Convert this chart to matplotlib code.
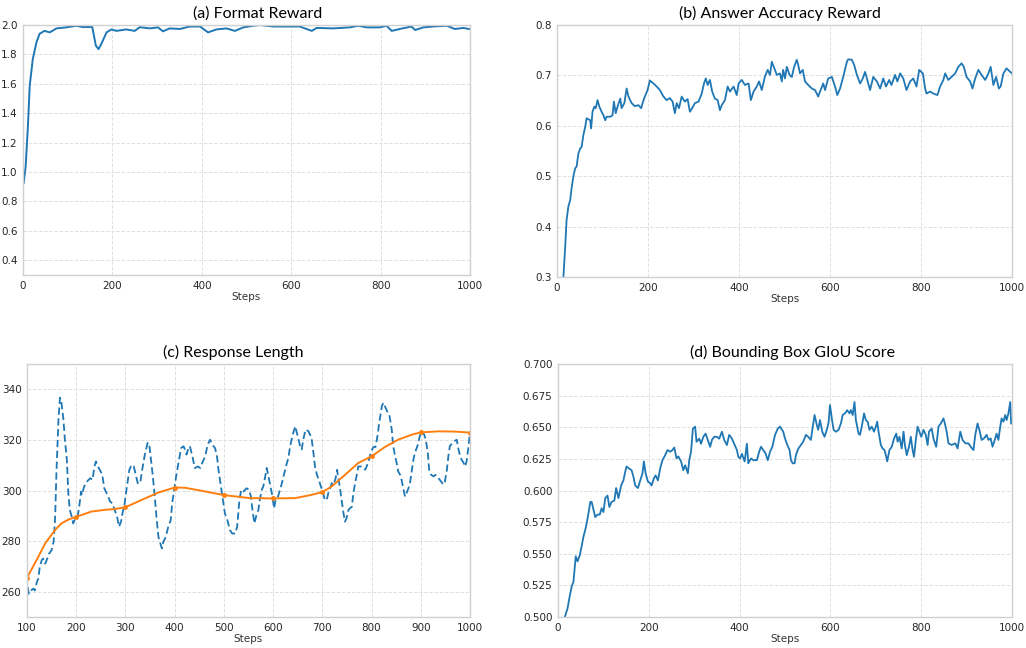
import matplotlib
import matplotlib.pyplot as plt

matplotlib.use("Agg")

# ---- data ----
fmt_steps = [1.5, 6, 11, 15, 22, 30, 37, 48, 60, 75, 97, 119, 134, 155, 163, 169, 175, 187,
             198, 209, 231, 250, 261, 284, 302, 313, 328, 351, 373, 396, 414, 433, 455, 474,
             493, 515, 530, 560, 590, 619, 646, 657, 694, 731, 750, 769, 799, 813, 825, 843,
             869, 877, 896, 918, 948, 966, 985, 998]
fmt_vals = [0.925, 1.04, 1.31, 1.585, 1.77, 1.88, 1.94, 1.96, 1.95, 1.977, 1.984, 1.995, 1.986,
            1.986, 1.86, 1.836, 1.87, 1.95, 1.97, 1.96, 1.97, 1.96, 1.985, 1.977, 1.984, 1.957,
            1.977, 1.973, 1.99, 1.99, 1.95, 1.97, 1.977, 1.96, 1.984, 1.995, 2.0, 1.99, 1.99,
            1.99, 1.96, 1.98, 1.977, 1.984, 1.995, 1.984, 1.984, 1.995, 1.96, 1.973, 1.99,
            1.966, 1.984, 1.99, 1.995, 1.973, 1.98, 1.973]

acc_steps = [14, 18, 21, 25, 29, 32, 36, 40, 43, 47, 51, 54, 58, 62, 65, 69, 73, 75, 78, 82,
             85, 89, 93, 98, 102, 106, 109, 117, 122, 125, 129, 133, 139, 142, 148, 153, 157,
             164, 171, 179, 185, 188, 193, 199, 204, 212, 219, 226, 234, 241, 248, 254, 259,
             263, 268, 274, 281, 287, 292, 297, 303, 311, 318, 323, 327, 331, 336, 341, 347,
             353, 358, 362, 369, 375, 380, 388, 395, 399, 406, 413, 421, 426, 432, 439, 444,
             450, 457, 463, 468, 472, 479, 483, 490, 494, 497, 501, 505, 511, 516, 521, 527,
             530, 534, 540, 545, 552, 560, 567, 574, 578, 585, 589, 596, 604, 611, 616, 622,
             629, 637, 640, 648, 653, 659, 666, 672, 677, 682, 688, 695, 703, 710, 717, 723,
             730, 735, 743, 748, 754, 761, 768, 776, 783, 790, 796, 804, 809, 812, 820, 827,
             836, 842, 849, 853, 860, 867, 875, 882, 889, 894, 900, 908, 913, 919, 926, 933,
             941, 948, 953, 959, 965, 971, 975, 981, 988, 996, 1000]
acc_vals = [0.300, 0.360, 0.413, 0.440, 0.453, 0.476, 0.500, 0.516, 0.519, 0.545, 0.555, 0.558,
            0.582, 0.598, 0.615, 0.613, 0.611, 0.595, 0.628, 0.638, 0.635, 0.651, 0.638, 0.628,
            0.621, 0.611, 0.618, 0.618, 0.621, 0.648, 0.625, 0.638, 0.654, 0.635, 0.645, 0.674,
            0.658, 0.645, 0.639, 0.641, 0.635, 0.645, 0.658, 0.671, 0.690, 0.684, 0.678, 0.671,
            0.658, 0.651, 0.655, 0.648, 0.625, 0.645, 0.635, 0.658, 0.648, 0.653, 0.628, 0.635,
            0.645, 0.648, 0.664, 0.684, 0.694, 0.681, 0.691, 0.668, 0.654, 0.651, 0.631, 0.641,
            0.651, 0.678, 0.668, 0.678, 0.661, 0.684, 0.691, 0.681, 0.684, 0.651, 0.668, 0.678,
            0.688, 0.671, 0.698, 0.711, 0.701, 0.727, 0.711, 0.701, 0.704, 0.688, 0.711, 0.694,
            0.717, 0.701, 0.697, 0.717, 0.731, 0.721, 0.704, 0.711, 0.688, 0.681, 0.674, 0.671,
            0.658, 0.668, 0.684, 0.671, 0.694, 0.697, 0.678, 0.661, 0.674, 0.697, 0.727, 0.732,
            0.731, 0.721, 0.701, 0.684, 0.694, 0.707, 0.691, 0.671, 0.697, 0.688, 0.674, 0.694,
            0.678, 0.691, 0.681, 0.701, 0.688, 0.704, 0.694, 0.671, 0.688, 0.694, 0.678, 0.711,
            0.704, 0.674, 0.664, 0.668, 0.664, 0.661, 0.678, 0.691, 0.704, 0.691, 0.697, 0.704,
            0.717, 0.724, 0.717, 0.697, 0.688, 0.674, 0.694, 0.711, 0.701, 0.691, 0.704, 0.717,
            0.681, 0.697, 0.674, 0.678, 0.704, 0.714, 0.707, 0.704]

len_steps = [101, 104, 108, 113, 116, 120, 123, 126, 130, 133, 137, 140, 145, 150, 154, 157,
             160, 164, 167, 170, 174, 177, 181, 184, 187, 191, 194, 198, 203, 206, 210, 212,
             215, 219, 225, 229, 233, 237, 240, 244, 248, 253, 257, 262, 265, 269, 273, 277,
             283, 287, 291, 294, 298, 301, 305, 308, 311, 314, 317, 321, 325, 330, 334, 340,
             345, 348, 352, 355, 359, 363, 367, 370, 374, 377, 382, 387, 392, 395, 399, 404,
             409, 413, 418, 421, 424, 428, 431, 436, 441, 447, 452, 456, 462, 467, 472, 477,
             482, 486, 489, 494, 498, 502, 508, 512, 517, 523, 527, 531, 535, 540, 546, 551,
             555, 558, 562, 567, 570, 573, 577, 580, 584, 587, 590, 594, 598, 602, 605, 609,
             614, 617, 623, 628, 631, 634, 639, 645, 650, 655, 658, 662, 666, 672, 675, 678,
             682, 685, 689, 693, 697, 701, 705, 709, 712, 716, 719, 723, 727, 730, 733, 736,
             739, 743, 746, 749, 753, 756, 760, 763, 766, 770, 773, 779, 783, 787, 790, 795,
             799, 804, 808, 812, 816, 821, 824, 827, 833, 836, 841, 844, 848, 851, 854, 858,
             861, 865, 868, 871, 875, 878, 882, 885, 888, 894, 898, 902, 907, 910, 914, 917,
             921, 926, 930, 936, 941, 946, 949, 953, 956, 959, 964, 968, 973, 976, 980, 983,
             987, 990, 993, 997, 1000]
len_vals = [261.9, 259.2, 260.5, 261.2, 260.5, 263.8, 265.2, 269.8, 272.5, 273.1, 271.1, 272.5,
            275.1, 276.4, 279.7, 288.3, 308.2, 328.1, 336.7, 334.7, 328.1, 320.1, 312.2, 298.9,
            292.3, 289.7, 287.0, 289.0, 289.7, 293.6, 299.6, 298.3, 300.9, 302.9, 304.2, 304.9,
            304.2, 309.5, 311.5, 309.5, 308.2, 306.2, 300.9, 298.9, 297.6, 295.6, 295.0, 293.0,
            289.7, 285.7, 287.7, 291.0, 294.3, 298.9, 304.2, 308.2, 309.5, 308.9, 309.5, 306.2,
            302.9, 302.9, 308.2, 314.8, 318.8, 318.8, 312.2, 306.9, 298.9, 289.7, 281.7, 279.7,
            277.1, 279.7, 281.7, 285.7, 288.3, 295.0, 300.3, 306.9, 312.2, 316.8, 317.5, 316.2,
            314.2, 316.8, 317.5, 313.5, 308.9, 309.5, 308.9, 310.9, 313.5, 318.1, 320.1, 318.1,
            316.8, 313.5, 308.2, 301.6, 296.3, 291.0, 287.7, 284.4, 283.0, 283.0, 285.7, 295.0,
            300.3, 299.6, 300.9, 300.3, 297.6, 292.3, 287.0, 291.0, 292.3, 296.3, 300.3, 301.6,
            305.6, 308.9, 306.2, 302.3, 298.3, 293.0, 296.3, 297.0, 300.3, 302.3, 306.9, 310.9,
            312.8, 316.8, 321.5, 325.4, 321.5, 317.5, 316.2, 320.8, 324.1, 323.4, 322.1, 320.8,
            314.8, 309.5, 306.2, 304.2, 301.6, 299.6, 296.3, 296.3, 298.9, 300.9, 302.9, 302.3,
            304.9, 308.2, 304.2, 300.9, 296.3, 291.0, 287.7, 289.0, 292.3, 293.0, 293.6, 298.9,
            302.3, 306.2, 309.5, 309.5, 308.9, 308.2, 309.5, 312.2, 315.5, 317.2, 317.2, 321.5,
            327.4, 333.4, 334.7, 333.4, 330.7, 330.1, 324.1, 317.5, 313.5, 310.9, 307.6, 306.2,
            304.2, 300.3, 297.6, 298.9, 300.9, 302.9, 308.2, 312.2, 314.8, 318.1, 321.5, 323.4,
            322.1, 320.1, 315.5, 308.2, 306.2, 305.6, 306.2, 304.9, 303.6, 302.3, 303.6, 308.2,
            313.5, 317.5, 318.8, 319.5, 320.1, 316.8, 313.5, 312.2, 310.9, 309.5, 311.5, 317.5,
            323.4]

# smooth trend line, read at close intervals; dots sit on every 100 steps
trend_steps = [100, 110, 123, 137, 157, 170, 185, 200, 231, 260, 279, 300, 333, 367, 400, 421,
               455, 500, 553, 600, 645, 678, 700, 719, 746, 773, 800, 827, 854, 882, 900, 936,
               970, 1000]
trend_vals = [265.6, 269.1, 273.8, 279.1, 284.4, 287.0, 288.6, 289.6, 291.7, 292.4, 292.7,
              293.4, 296.3, 299.2, 301.2, 301.1, 299.9, 298.2, 297.0, 296.9, 297.0, 298.3,
              299.4, 301.6, 306.2, 310.9, 313.5, 317.2, 320.1, 322.1, 323.0, 323.4, 323.3,
              322.9]

giou_steps = [15, 21, 26, 30, 34, 39, 43, 48, 52, 56, 60, 63, 67, 71, 74, 78, 82, 87, 92, 96,
              100, 104, 109, 113, 118, 124, 128, 133, 139, 144, 148, 151, 156, 162, 166, 170,
              176, 181, 186, 189, 193, 198, 203, 206, 211, 215, 220, 225, 230, 236, 241, 247,
              252, 256, 261, 265, 271, 276, 280, 286, 289, 293, 297, 302, 305, 311, 315, 320,
              325, 331, 335, 339, 344, 350, 355, 361, 366, 372, 377, 383, 388, 394, 397, 401,
              405, 411, 416, 419, 425, 430, 438, 443, 447, 452, 457, 462, 467, 472, 478, 484,
              489, 496, 500, 505, 510, 513, 517, 521, 524, 529, 535, 540, 546, 551, 557, 561,
              565, 570, 573, 577, 582, 587, 592, 596, 599, 603, 607, 612, 618, 623, 627, 632,
              637, 642, 645, 649, 653, 656, 662, 665, 669, 674, 678, 682, 686, 691, 696, 700,
              703, 706, 711, 715, 719, 723, 725, 730, 735, 740, 745, 748, 752, 757, 761, 764,
              768, 773, 777, 781, 784, 788, 792, 796, 800, 805, 810, 814, 817, 823, 827, 833,
              838, 843, 849, 852, 856, 860, 867, 875, 880, 886, 891, 897, 904, 909, 915, 919,
              924, 928, 933, 938, 944, 948, 953, 957, 963, 966, 970, 974, 977, 981, 985, 988,
              992, 996, 998]
giou_vals = [0.500, 0.507, 0.517, 0.524, 0.528, 0.548, 0.544, 0.549, 0.556, 0.5635, 0.569,
             0.574, 0.582, 0.591, 0.591, 0.585, 0.579, 0.581, 0.581, 0.586, 0.583, 0.594, 0.596,
             0.587, 0.591, 0.592, 0.602, 0.594, 0.604, 0.608, 0.615, 0.619, 0.6175, 0.616,
             0.611, 0.604, 0.602, 0.608, 0.6135, 0.623, 0.6135, 0.607, 0.6057, 0.604, 0.6096,
             0.612, 0.608, 0.6175, 0.624, 0.628, 0.632, 0.6307, 0.632, 0.634, 0.6254, 0.627,
             0.623, 0.616, 0.620, 0.6136, 0.624, 0.6307, 0.649, 0.6505, 0.6386, 0.641, 0.637,
             0.6425, 0.645, 0.6386, 0.6346, 0.640, 0.6425, 0.6425, 0.641, 0.6465, 0.640, 0.636,
             0.644, 0.641, 0.637, 0.632, 0.6267, 0.6254, 0.629, 0.623, 0.637, 0.6215, 0.6254,
             0.624, 0.624, 0.6307, 0.6346, 0.632, 0.6294, 0.624, 0.6307, 0.6346, 0.644, 0.649,
             0.6505, 0.6465, 0.641, 0.636, 0.632, 0.624, 0.6215, 0.6215, 0.628, 0.633, 0.636,
             0.6386, 0.644, 0.6425, 0.640, 0.6505, 0.6597, 0.6518, 0.648, 0.6557, 0.6465,
             0.6425, 0.648, 0.654, 0.6676, 0.657, 0.648, 0.6465, 0.648, 0.653, 0.6597, 0.661,
             0.6636, 0.661, 0.6636, 0.6597, 0.670, 0.6557, 0.645, 0.644, 0.6505, 0.661, 0.6557,
             0.6544, 0.648, 0.6505, 0.6465, 0.6505, 0.6544, 0.6465, 0.636, 0.6333, 0.632,
             0.6267, 0.623, 0.632, 0.6346, 0.641, 0.645, 0.6386, 0.6425, 0.6333, 0.6465, 0.636,
             0.628, 0.6346, 0.6425, 0.632, 0.6267, 0.640, 0.6505, 0.6465, 0.6425, 0.648, 0.644,
             0.636, 0.6465, 0.649, 0.641, 0.6346, 0.6505, 0.653, 0.657, 0.653, 0.6465, 0.6373,
             0.636, 0.6373, 0.6333, 0.6465, 0.640, 0.6373, 0.6373, 0.6346, 0.632, 0.644, 0.653,
             0.648, 0.640, 0.6412, 0.644, 0.640, 0.6412, 0.6346, 0.6412, 0.645, 0.640, 0.6505,
             0.657, 0.6544, 0.6597, 0.6557, 0.661, 0.670, 0.653]

BLUE = "#1f77b4"
ORANGE = "#ff7f0e"

plt.rcParams["font.family"] = ["DejaVu Sans"]
plt.rcParams["font.size"] = 7.5

fig = plt.figure(figsize=(10.26, 6.48), dpi=100)
ax_a = fig.add_axes([0.0224, 0.5756, 0.4357, 0.3858])
ax_b = fig.add_axes([0.5429, 0.5725, 0.4435, 0.3889])
ax_c = fig.add_axes([0.0263, 0.0478, 0.4318, 0.3904])
ax_d = fig.add_axes([0.5439, 0.0478, 0.4425, 0.3904])


def style(ax, title, title_x):
    ax.set_title(title, family=["Lato", "DejaVu Sans"], fontsize=11.5, x=title_x, pad=5)
    ax.set_xlabel("Steps", fontsize=7.5, labelpad=1, color="#333333")
    ax.grid(True, color="#e0e0e0", linestyle="--", linewidth=0.7)
    ax.set_axisbelow(True)
    for sp in ax.spines.values():
        sp.set_color("#d0d0d0")
        sp.set_linewidth(1.0)
    ax.tick_params(length=0, pad=4, labelsize=7.5, colors="#262626")


ax_a.plot(fmt_steps, fmt_vals, color=BLUE, lw=1.4)
ax_a.set_xlim(0, 1000)
ax_a.set_ylim(0.3, 2.0)
ax_a.set_yticks([0.4, 0.6, 0.8, 1.0, 1.2, 1.4, 1.6, 1.8, 2.0])
style(ax_a, "(a) Format Reward", 0.526)

ax_b.plot(acc_steps, acc_vals, color=BLUE, lw=1.3)
ax_b.set_xlim(0, 1000)
ax_b.set_ylim(0.3, 0.8)
ax_b.set_yticks([0.3, 0.4, 0.5, 0.6, 0.7, 0.8])
style(ax_b, "(b) Answer Accuracy Reward", 0.49)

ax_c.plot(len_steps, len_vals, color=BLUE, lw=1.3, ls=(0, (4, 2)))
marks = [i for i, s in enumerate(trend_steps) if s % 100 == 0]
ax_c.plot(trend_steps, trend_vals, color=ORANGE, lw=1.4, marker="o", ms=2.5,
          markevery=marks)
ax_c.set_xlim(100, 1000)
ax_c.set_ylim(250, 350)
ax_c.set_xticks(range(100, 1001, 100))
ax_c.set_yticks([260, 280, 300, 320, 340])
style(ax_c, "(c) Response Length", 0.465)

ax_d.plot(giou_steps, giou_vals, color=BLUE, lw=1.3)
ax_d.set_xlim(0, 1000)
ax_d.set_ylim(0.5, 0.7)
ax_d.set_yticks([0.5, 0.525, 0.55, 0.575, 0.6, 0.625, 0.65, 0.675, 0.7])
ax_d.yaxis.set_major_formatter(matplotlib.ticker.FormatStrFormatter("%.3f"))
style(ax_d, "(d) Bounding Box GIoU Score", 0.517)

fig.savefig("out.png", dpi=100)
plt.close(fig)
